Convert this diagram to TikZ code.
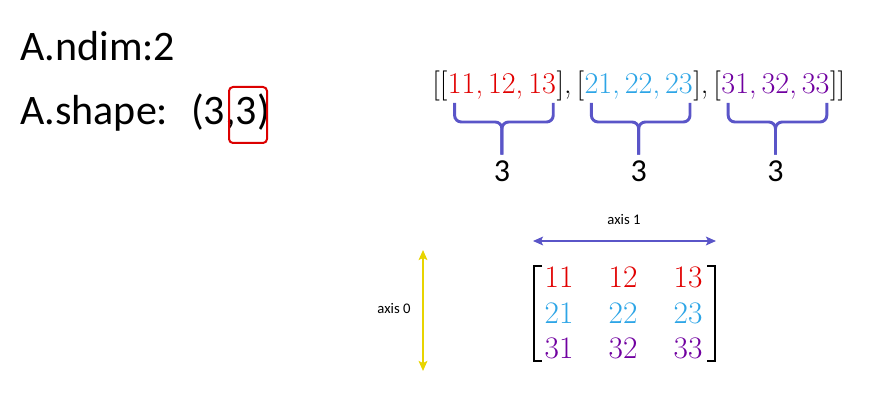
\documentclass[tikz,border=0pt]{standalone}
\usepackage{amsmath}
\usepackage{fontspec}
\newfontfamily\calib{Carlito}
\usetikzlibrary{arrows.meta, positioning, calc}
\definecolor{rowred}{RGB}{225,0,0}
\definecolor{rowblue}{RGB}{45,165,230}
\definecolor{rowpurple}{RGB}{112,0,160}
\definecolor{bracecol}{RGB}{90,85,200}
\definecolor{axisyellow}{RGB}{232,212,0}
\definecolor{hlred}{RGB}{220,0,0}

\begin{document}
\begin{tikzpicture}[x=0.75pt,y=-0.75pt,
	info/.style={font=\calib\fontsize{31.5}{38}\selectfont,inner sep=0pt,anchor=base west},
	lst/.style={font=\fontsize{22.6}{27}\selectfont,inner sep=0pt,anchor=base west},
	cnt/.style={font=\calib\fontsize{24}{29}\selectfont,inner sep=0pt,outer sep=5pt,anchor=base},
	ent/.style={font=\fontsize{23.5}{28}\selectfont,inner sep=0pt,anchor=base},
	axlbl/.style={font=\calib\fontsize{11}{13}\selectfont,inner sep=0pt},
	brc/.style={bracecol,line width=2.2pt,rounded corners=5pt},
	axarr/.style={line width=2.2pt,{Stealth[length=7.5pt,width=6.5pt,inset=1.5pt]}-{Stealth[length=7.5pt,width=6.5pt,inset=1.5pt]}},
	mbrk/.style={line width=1.6pt},
	hlbox/.style={hlred,line width=1.5pt,rounded corners=3pt}]
	\useasboundingbox (0,0) rectangle (871,406);
	% dims and shape
	\node[info] (ndim) at (20,61) {A.ndim:2};
	\node[info] (shape) at (20,125) {A.shape:};
	\node[info] (tup) at (191,125) {(3,3)};
	\draw[hlbox] (229,87) rectangle (267,143);
	% nested list
	\node[lst] (o1) at (432,94) {[[};
	\node[lst,rowred] (r1) at (o1.base east) {11,\,12,\,13};
	\node[lst] (o2) at (r1.base east) {],\,[};
	\node[lst,rowblue] (r2) at (o2.base east) {21,\,22,\,23};
	\node[lst] (o3) at (r2.base east) {],\,[};
	\node[lst,rowpurple] (r3) at (o3.base east) {31,\,32,\,33};
	\node[lst] (o4) at (r3.base east) {]]};
	% braces with counts
	\foreach \r/\c in {r1/c1,r2/c2,r3/c3}{
		\node[cnt] (\c) at (\r.south |- 0,182) {3};
		\draw[brc] ($(\r.south west |- 0,103)+(7,0)$) -- ($(\r.south west |- 0,122)+(7,0)$) -- (\c.north |- 0,122) -- (\c.north);
		\draw[brc] ($(\r.south east |- 0,103)+(-3,0)$) -- ($(\r.south east |- 0,122)+(-3,0)$) -- (\c.north |- 0,122) -- (\c.north);
	}
	% axis 1
	\coordinate (ax1a) at (533,241);
	\coordinate (ax1b) at (716,241);
	\draw[axarr,bracecol] (ax1a) -- (ax1b);
	\node[axlbl,anchor=base] (ax1) at (624,224) {axis 1};
	% axis 0
	\coordinate (ax0a) at (423,250);
	\coordinate (ax0b) at (423,371);
	\draw[axarr,axisyellow] (ax0a) -- (ax0b);
	\node[axlbl] (ax0) at (394,309) {axis 0};
	% matrix
	\foreach \i/\rc/\y in {1/rowred/287,2/rowblue/323,3/rowpurple/358}{
		\foreach \j/\x in {1/559,2/623,3/688}{
			\node[ent,text=\rc] (m\i\j) at (\x,\y) {\i\j};
		}
	}
	\draw[mbrk] (542,266) -- (534,266) -- (534,361) -- (542,361);
	\draw[mbrk] (707,266) -- (715,266) -- (715,361) -- (707,361);
\end{tikzpicture}
\end{document}
